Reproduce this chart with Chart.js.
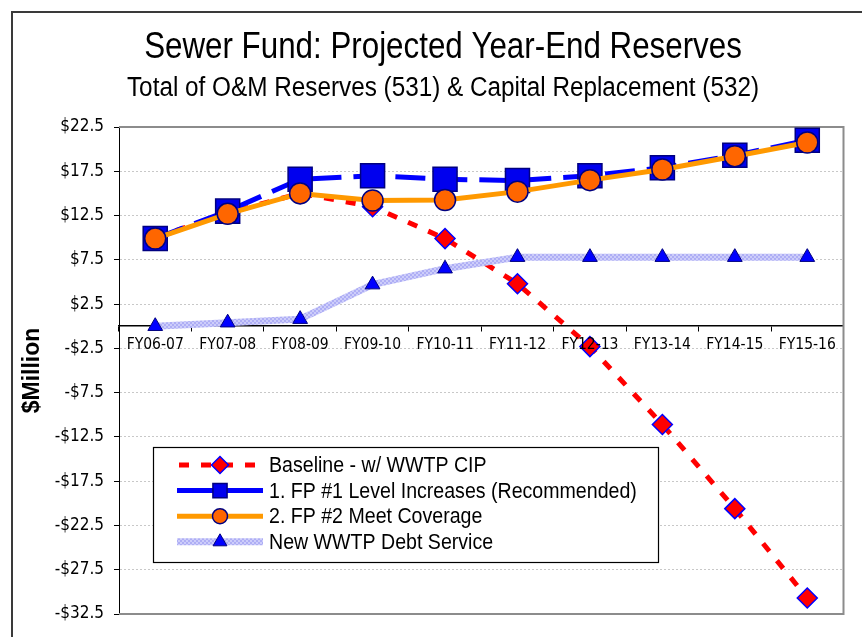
<!DOCTYPE html>
<html>
<head>
<meta charset="utf-8">
<script src="https://cdn.jsdelivr.net/npm/chart.js"></script>
<style>
  html, body { margin: 0; padding: 0; background: #fff; }
  #wrap { width: 862px; height: 637px; }
</style>
</head>
<body>
<div id="wrap"><canvas id="reserves" width="862" height="637"></canvas></div>
<script>
// Chart values ($ millions)
const categories = ['FY06-07', 'FY07-08', 'FY08-09', 'FY09-10', 'FY10-11',
                    'FY11-12', 'FY12-13', 'FY13-14', 'FY14-15', 'FY15-16'];
const baselineValues = [10.0, 12.8, 15.0, 13.5, 9.9, 4.8, -2.3, -11.1, -20.6, -30.7];
const fp1Values      = [9.9, 13.0, 16.6, 17.0, 16.6, 16.45, 17.0, 17.9, 19.3, 21.0];
const fp2Values      = [9.9, 12.7, 15.0, 14.2, 14.25, 15.2, 16.5, 17.7, 19.2, 20.75];
const debtValues     = [0.0, 0.4, 0.8, 4.7, 6.5, 7.8, 7.8, 7.8, 7.8, 7.8];
const seriesNames = ['Baseline - w/ WWTP CIP', '1. FP #1 Level Increases (Recommended)',
                     '2. FP #2 Meet Coverage', 'New WWTP Debt Service'];
const yTicks = [22.5, 17.5, 12.5, 7.5, 2.5, -2.5, -7.5, -12.5, -17.5, -22.5, -27.5, -32.5];

const titleText = 'Sewer Fund: Projected Year-End Reserves';
const subtitleText = 'Total of O&M Reserves (531) & Capital Replacement (532)';
const NARROW = '"Liberation Sans Narrow", "Arial Narrow", "DejaVu Sans Condensed", sans-serif';
const SANS = '"Liberation Sans", Arial, sans-serif';

const canvas = document.getElementById('reserves');
const ctx = canvas.getContext('2d');

// light lavender hatched stroke used by the debt service series
function hatchPattern() {
  const c = document.createElement('canvas');
  c.width = 4; c.height = 4;
  const g = c.getContext('2d');
  g.fillStyle = '#cdcdfa';
  g.fillRect(0, 0, 4, 4);
  g.fillStyle = '#aeaef5';
  g.fillRect(0, 0, 2, 2);
  g.fillRect(2, 2, 2, 2);
  return ctx.createPattern(c, 'repeat');
}

// Arial Narrow look: Liberation Sans squeezed horizontally
function narrowText(c, text, x, y, size, squeeze, align) {
  c.save();
  c.font = size + 'px ' + SANS;
  c.textAlign = align;
  c.translate(x, y);
  c.scale(squeeze, 1);
  c.fillText(text, 0, 0);
  c.restore();
}

// legend marker sizes (smaller than the plotted markers)
const legendMarkers = [8.5, 10, 7.5, 8];

const framePlugin = {
  id: 'frame',
  beforeDraw(chart) {
    const c = chart.ctx;
    c.save();
    c.fillStyle = '#fff';
    c.fillRect(0, 0, chart.width, chart.height);
    c.strokeStyle = '#3a3a3a';
    c.lineWidth = 2;
    c.beginPath();
    c.moveTo(12, chart.height);
    c.lineTo(12, 12);
    c.lineTo(chart.width, 12);
    c.stroke();

    c.fillStyle = '#000';
    c.textBaseline = 'alphabetic';
    narrowText(c, titleText, 443, 58, 36, 0.87, 'center');
    narrowText(c, subtitleText, 443, 96, 27, 0.9, 'center');
    c.restore();
  },
  beforeDatasetsDraw(chart) {
    const a = chart.chartArea;
    const c = chart.ctx;
    c.save();
    c.strokeStyle = '#8c8c8c';
    c.lineWidth = 2;
    c.beginPath();
    c.moveTo(a.left, a.top);
    c.lineTo(a.right, a.top);
    c.lineTo(a.right, a.bottom);
    c.lineTo(a.left, a.bottom);
    c.stroke();
    c.restore();
  },
  afterDraw(chart) {
    const c = chart.ctx;
    c.save();
    c.fillStyle = '#fff';
    c.fillRect(153, 447, 505, 115);
    c.strokeStyle = '#000';
    c.lineWidth = 1.2;
    c.strokeRect(153.5, 447.5, 505, 115);

    chart.data.datasets.forEach((ds, i) => {
      const y = 465 + i * 25.6;
      c.save();
      c.strokeStyle = ds.borderColor;
      c.lineWidth = ds.borderWidth;
      c.lineCap = 'butt';
      c.setLineDash(i === 0 ? [10, 12] : []);
      c.beginPath();
      c.moveTo(i === 0 ? 179 : 177, y);
      c.lineTo(263, y);
      c.stroke();
      c.restore();

      c.save();
      c.fillStyle = ds.pointBackgroundColor;
      c.strokeStyle = ds.pointBorderColor;
      c.lineWidth = ds.pointBorderWidth;
      Chart.helpers.drawPoint(c, {
        pointStyle: ds.pointStyle,
        radius: legendMarkers[i],
        borderWidth: ds.pointBorderWidth,
        rotation: 0
      }, 220, y);
      c.restore();

      c.fillStyle = '#000';
      c.textBaseline = 'middle';
      narrowText(c, ds.label, 269, y + 1, 22, 0.89, 'left');
    });
    c.restore();
  }
};

new Chart(ctx, {
  type: 'line',
  data: {
    labels: categories,
    datasets: [
      {
        label: seriesNames[0],
        data: baselineValues,
        borderColor: '#ff0000',
        borderWidth: 5,
        borderDash: [10, 12],
        borderCapStyle: 'butt',
        pointStyle: 'rectRot',
        pointRadius: 10,
        pointBackgroundColor: '#ff0000',
        pointBorderColor: '#0000ff',
        pointBorderWidth: 1.5,
        order: 4
      },
      {
        label: seriesNames[1],
        data: fp1Values,
        borderColor: '#0000ff',
        borderWidth: 5,
        borderDash: [30, 12],
        borderCapStyle: 'butt',
        pointStyle: 'rect',
        pointRadius: 17,
        pointBackgroundColor: '#0000ee',
        pointBorderColor: '#000080',
        pointBorderWidth: 1.5,
        order: 3
      },
      {
        label: seriesNames[2],
        data: fp2Values,
        borderColor: '#ff9900',
        borderWidth: 5,
        pointStyle: 'circle',
        pointRadius: 10.5,
        pointBackgroundColor: '#ff6600',
        pointBorderColor: '#000080',
        pointBorderWidth: 1.5,
        order: 2
      },
      {
        label: seriesNames[3],
        data: debtValues,
        borderColor: hatchPattern(),
        borderWidth: 7,
        pointStyle: 'triangle',
        pointRadius: 8.5,
        pointBackgroundColor: '#0000ff',
        pointBorderColor: '#000080',
        pointBorderWidth: 1,
        order: 1
      }
    ]
  },
  options: {
    responsive: false,
    animation: false,
    devicePixelRatio: 1,
    clip: false,
    layout: { padding: { left: 0, top: 127, right: 13, bottom: 23 } },
    plugins: {
      legend: { display: false },
      tooltip: { enabled: false }
    },
    elements: { line: { tension: 0 } },
    scales: {
      x: {
        type: 'category',
        position: { y: 0 },
        offset: true,
        grid: { offset: true, drawOnChartArea: false, drawTicks: true, tickLength: 5, color: '#000' },
        border: { color: '#000', width: 1.5 },
        ticks: {
          z: 1,  // labels above the markers, as in the original
          color: '#000',
          font: { family: NARROW, size: 15.5 },
          padding: 4,
          maxRotation: 0,
          autoSkip: false
        }
      },
      y: {
        min: -32.5,
        max: 22.5,
        afterBuildTicks: (scale) => { scale.ticks = yTicks.map(v => ({ value: v })); },
        afterFit: (scale) => { scale.width = 119; },
        grid: { color: '#c8c8c8', tickColor: '#000', tickLength: 5, lineWidth: 1 },
        border: { color: '#000', width: 1, dash: [2, 2] },
        ticks: {
          color: '#000',
          padding: 10,
          font: { family: NARROW, size: 17 },
          callback: (v) => (v < 0 ? '-$' : '$') + Math.abs(v).toFixed(1)
        },
        title: {
          display: true,
          text: '$Million',
          color: '#000',
          font: { family: SANS, size: 23, weight: 'bold' },
          padding: { top: 19, bottom: 0 }
        }
      }
    }
  },
  plugins: [framePlugin]
});
</script>
</body>
</html>
